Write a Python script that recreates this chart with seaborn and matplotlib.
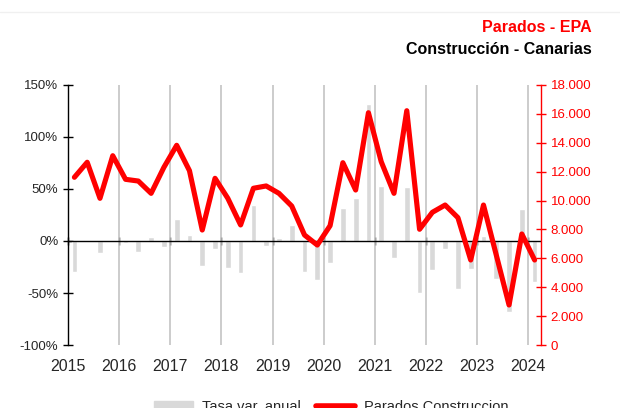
import numpy as np
import pandas as pd
import matplotlib
matplotlib.use("Agg")
import matplotlib.pyplot as plt
import matplotlib.ticker as mticker
from matplotlib.lines import Line2D
from matplotlib.patches import Patch
import seaborn as sns

# quarterly data 2015T1 - 2024T1
quarters = [f"{y}T{q}" for y in range(2015, 2025) for q in range(1, 5)][:37]
parados = [11610, 12650, 10155, 13105, 11470, 11350, 10500, 12300,
           13825, 12070, 7960, 11540, 10155, 8310, 10850, 11010,
           10500, 9620, 7615, 6920, 8260, 12620, 10730, 16080,
           12690, 10500, 16220, 8010, 9185, 9690, 8815, 5885,
           9690, 6230, 2770, 7685, 5885]
tasa = [-29.5, 0.5, -11.9, 0.0, -1.5, -10.3, 4.2, -5.4,
        21.0, 6.0, -23.7, -7.4, -26.3, -31.0, 34.6, -4.5,
        3.2, 15.4, -29.5, -37.5, -20.8, 31.4, 41.0, 132.0,
        53.0, -16.7, 51.6, -50.3, -27.9, -7.7, -46.0, -27.0,
        5.0, -36.5, -68.6, 30.4, -39.0]
years = list(range(2015, 2025))

df = pd.DataFrame({"trimestre": quarters, "tasa": tasa, "parados": parados})
df["pos"] = df.index

sns.set_style("white")
plt.rcParams["font.family"] = ["Liberation Sans", "DejaVu Sans"]

fig = plt.figure(figsize=(6.2, 4.08), dpi=100)
ax = fig.add_axes([0.1097, 0.1544, 0.7629, 0.6373])

sns.barplot(data=df, x="trimestre", y="tasa", color="#d9d9d9", saturation=1,
            width=0.45, ax=ax, zorder=2)
ax.set_ylim(-100, 150)
ax.set_xlim(-0.5, 36.5)
ax.set_xlabel("")
ax.set_ylabel("")

# year boundaries
year_pos = [-0.5 + 4 * i for i in range(len(years))]
ax.set_xticks(year_pos)
ax.set_xticklabels([str(y) for y in years], fontsize=11.5)
ax.tick_params(axis="x", length=0, pad=10)
ax.grid(axis="x", color="#c4c4c4", lw=1.2, zorder=0)
ax.grid(axis="y", visible=False)

ax.set_yticks(np.arange(-100, 151, 50))
ax.yaxis.set_major_formatter(mticker.FuncFormatter(lambda v, p: f"{v:.0f}%"))
ax.tick_params(axis="y", direction="inout", length=7, width=1, labelsize=9.5,
               color="black")
for s in ["top", "right", "bottom"]:
    ax.spines[s].set_visible(False)
ax.spines["left"].set_color("black")
ax.spines["left"].set_linewidth(1)

ax.axhline(0, color="black", lw=1, zorder=3)
zero_ax = ax.secondary_xaxis(100 / 250)
zero_ax.set_xticks(year_pos)
zero_ax.set_xticklabels([])
zero_ax.tick_params(direction="inout", length=6, width=1, color="black")
zero_ax.spines["bottom"].set_visible(False)

ax2 = ax.twinx()
sns.lineplot(data=df, x="pos", y="parados", color="#ff0000", lw=3.7, ax=ax2,
             zorder=4)
ax2.set_ylim(0, 18000)
ax2.set_xlim(-0.5, 36.5)
ax2.set_ylabel("")
ax2.set_xlabel("")
ax2.set_yticks(np.arange(0, 18001, 2000))
ax2.yaxis.set_major_formatter(
    mticker.FuncFormatter(lambda v, p: f"{v:,.0f}".replace(",", ".")))
ax2.tick_params(axis="y", direction="inout", length=7, width=1, labelsize=9.5,
                color="#ff0000", labelcolor="#ff0000")
for s in ["top", "left", "bottom"]:
    ax2.spines[s].set_visible(False)
ax2.spines["right"].set_color("#ff0000")
ax2.spines["right"].set_linewidth(1)

fig.text(0.954, 1 - 27 / 408, "Parados - EPA", color="#ff0000",
         fontsize=11.5, fontweight="bold", ha="right", va="center")
fig.text(0.954, 1 - 49 / 408, "Construcción - Canarias", color="black",
         fontsize=11.5, fontweight="bold", ha="right", va="center")
fig.add_artist(Line2D([0, 1], [1 - 12 / 408, 1 - 12 / 408],
                      color="#f0f0f0", lw=1, transform=fig.transFigure))

handles = [Patch(color="#d9d9d9"),
           Line2D([0], [0], color="#ff0000", lw=4)]
fig.legend(handles, ["Tasa var. anual", "Parados Construccion"],
           loc="center", bbox_to_anchor=(0.534, 1 - 407 / 408),
           ncol=2, frameon=False, fontsize=10.5, handlelength=2.7,
           handletextpad=0.6, columnspacing=1.0, borderpad=0)

fig.savefig("out.png", dpi=100)
